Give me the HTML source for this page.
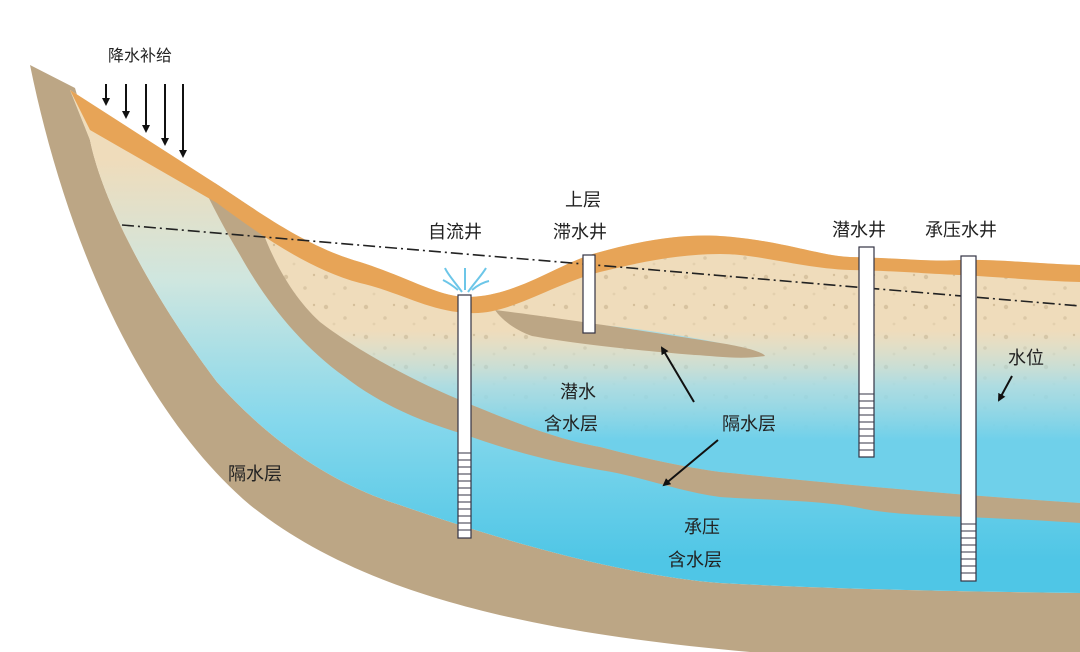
<!DOCTYPE html>
<html><head><meta charset="utf-8"><style>
html,body{margin:0;padding:0;background:#fff;}
svg{display:block}
text{font-family:"Liberation Sans","Noto Sans CJK SC",sans-serif;font-size:18px;fill:#222;}
</style></head><body>
<svg width="1080" height="652" viewBox="0 0 1080 652" xmlns="http://www.w3.org/2000/svg">
<defs>
<pattern id="dots" width="40" height="30" patternUnits="userSpaceOnUse">
<rect width="40" height="30" fill="#efdcbb"/>
<circle cx="6" cy="7" r="2.2" fill="#d8c3a0"/><circle cx="25" cy="18" r="1.8" fill="#dcc8a6"/>
<circle cx="34" cy="5" r="1.2" fill="#d5bf9a"/><circle cx="14" cy="24" r="1.4" fill="#e3d0ae"/>
</pattern>
<linearGradient id="ug" gradientUnits="userSpaceOnUse" x1="0" y1="330" x2="0" y2="440">
<stop offset="0" stop-color="#bfe6ea" stop-opacity="0"/>
<stop offset="0.5" stop-color="#9fdcea" stop-opacity="0.8"/>
<stop offset="1" stop-color="#6fd0ea" stop-opacity="1"/>
</linearGradient>
<linearGradient id="cg" gradientUnits="userSpaceOnUse" x1="0" y1="160" x2="0" y2="560">
<stop offset="0" stop-color="#efdcbb"/>
<stop offset="0.3" stop-color="#cfe6df"/>
<stop offset="0.65" stop-color="#86d8ec"/>
<stop offset="1" stop-color="#4fc6e6"/>
</linearGradient>
<clipPath id="inner"><path d="M70,90 L207,178 C250,205 300,245 360,262 C410,278 440,298 470,297 C520,295 560,262 600,252 C650,238 690,234 720,236 C780,240 820,256 850,257 C900,258 930,262 960,260 C1000,259 1040,264 1080,265 L1080,593 C1000,592 850,590 720,583 C620,575 500,540 400,505 C320,480 260,430 217,382 C140,280 100,190 90,140 Z"/></clipPath>
<marker id="ah" markerWidth="8" markerHeight="8" refX="6" refY="4" orient="auto" markerUnits="userSpaceOnUse">
<path d="M0,0 L8,4 L0,8 Z" fill="#111"/></marker>
</defs>
<path d="M30,65 L75,88 L90,140 C100,190 140,280 217,382 C260,430 320,480 400,505 C500,540 620,575 720,583 C850,590 1000,592 1080,593 L1080,652 L750,652 C500,630 350,585 250,505 C150,420 70,260 30,65 Z" fill="#bca685"/>
<g clip-path="url(#inner)">
<rect x="0" y="0" width="1080" height="652" fill="url(#dots)"/>
<path d="M40,60 L205,185 C240,240 270,290 310,322 C340,345 400,380 460,400 C520,425 560,440 600,447 C650,460 690,468 720,472 C820,482 950,495 1080,503 L1080,652 L0,652 Z" fill="url(#cg)"/>
<path d="M205,185 C240,240 270,290 310,322 C340,345 400,380 460,400 C520,425 560,440 600,447 C650,460 690,468 720,472 C820,482 950,495 1080,503 L1080,200 L205,150 Z" fill="url(#ug)"/>
<path d="M560,322 C620,325 680,335 720,343 L700,350 C640,345 590,338 560,332 Z" fill="#9fdcea" opacity="0.8"/>
<path d="M200,180 L250,190 C262,240 285,290 320,322 C350,345 400,375 460,400 C520,425 560,440 600,447 C650,460 690,468 720,472 C820,482 950,495 1080,503 L1080,523 C960,515 900,517 860,508 C820,500 760,500 720,497 C680,492 640,476 600,470 C540,460 500,447 460,433 C410,418 375,400 345,377 C300,345 265,300 240,255 C225,230 212,205 200,180 Z" fill="#bca685"/>
<path d="M495,310 C560,318 650,332 720,343 C745,347 763,352 765,356 C740,360 715,356 695,355 C620,349 565,342 532,336 C515,330 502,320 495,310 Z" fill="#bca685"/>
</g>
<path d="M70,90 L207,178 C250,205 300,245 360,262 C410,278 440,298 470,297 C520,295 560,262 600,252 C650,238 690,234 720,236 C780,240 820,256 850,257 C900,258 930,262 960,260 C1000,259 1040,264 1080,265 L1080,282 C1040,281 1000,277 960,275 C930,274 900,271 850,270 C800,268 760,254 720,254 C680,254 640,262 600,272 C550,285 510,315 470,313 C430,312 400,292 360,283 C310,270 260,235 217,203 L90,130 Z" fill="#e7a457"/>
<line x1="122" y1="225" x2="1080" y2="306" stroke="#222" stroke-width="1.6" stroke-dasharray="12,4,2,4"/>
<g stroke="#334" stroke-width="1.2" fill="#fff">
<rect x="458" y="295" width="13" height="243"/>
<rect x="583" y="255" width="12" height="78"/>
<rect x="859" y="247" width="15" height="210"/>
<rect x="961" y="256" width="15" height="325"/>
</g>
<g stroke="#334" stroke-width="1">
<path d="M458,453h13M458,460h13M458,467h13M458,474h13M458,481h13M458,488h13M458,495h13M458,502h13M458,509h13M458,516h13M458,523h13M458,530h13"/>
<path d="M859,394h15M859,401h15M859,408h15M859,415h15M859,422h15M859,429h15M859,436h15M859,443h15M859,450h15"/>
<path d="M961,524h15M961,531h15M961,538h15M961,545h15M961,552h15M961,559h15M961,566h15M961,573h15"/>
</g>
<g stroke="#6cc6e8" stroke-width="2" fill="none">
<path d="M462,292 C455,282 448,275 445,268"/><path d="M468,292 C475,282 482,275 486,268"/>
<path d="M465,290 L465,268"/><path d="M458,290 C452,285 447,282 443,280"/><path d="M472,290 C478,285 484,282 489,281"/>
</g>
<g stroke="#111" stroke-width="2">
<line x1="106" y1="84" x2="106" y2="104" marker-end="url(#ah)"/>
<line x1="126" y1="84" x2="126" y2="117" marker-end="url(#ah)"/>
<line x1="146" y1="84" x2="146" y2="131" marker-end="url(#ah)"/>
<line x1="165" y1="84" x2="165" y2="144" marker-end="url(#ah)"/>
<line x1="183" y1="84" x2="183" y2="156" marker-end="url(#ah)"/>
<line x1="694" y1="402" x2="662" y2="348" marker-end="url(#ah)"/>
<line x1="718" y1="440" x2="664" y2="485" marker-end="url(#ah)"/>
<line x1="1012" y1="376" x2="999" y2="400" marker-end="url(#ah)"/>
</g>
<text x="108" y="61" style="font-size:16px">降水补给</text>
<text x="428" y="238">自流井</text>
<text x="565" y="206">上层</text>
<text x="553" y="238">滞水井</text>
<text x="832" y="236">潜水井</text>
<text x="925" y="236">承压水井</text>
<text x="1008" y="364">水位</text>
<text x="560" y="398">潜水</text>
<text x="544" y="430">含水层</text>
<text x="722" y="430">隔水层</text>
<text x="228" y="480">隔水层</text>
<text x="684" y="533">承压</text>
<text x="668" y="566">含水层</text>
</svg>
</body></html>
